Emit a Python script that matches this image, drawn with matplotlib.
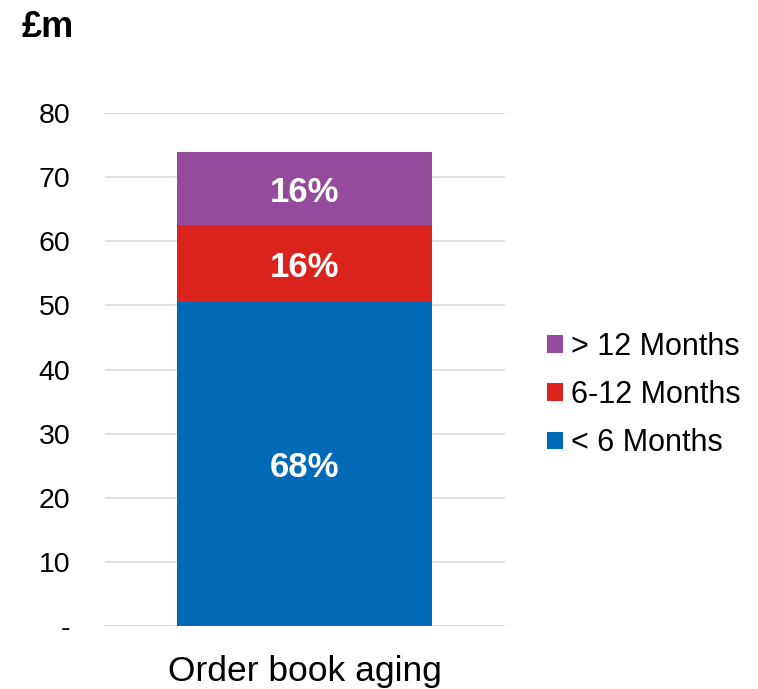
import matplotlib
matplotlib.use("Agg")
import matplotlib.pyplot as plt

plt.rcParams['font.family'] = ['Liberation Sans', 'DejaVu Sans']

# data (values in £m)
category = ["Order book aging"]
series = ["< 6 Months", "6-12 Months", "> 12 Months"]
values = [50.5, 12.0, 11.4]
pct_labels = ["68%", "16%", "16%"]
colors = ["#006AB6", "#DB231E", "#944B9C"]
y_ticks = [0, 10, 20, 30, 40, 50, 60, 70, 80]
y_tick_labels = ["-", "10", "20", "30", "40", "50", "60", "70", "80"]

fig = plt.figure(figsize=(7.58, 6.89), dpi=100)
ax = fig.add_axes([0.1385, 0.0914, 0.5277, 0.7446])

bottom = 0
bars = []
for name, val, col, lab in zip(series, values, colors, pct_labels):
    b = ax.bar(category, [val], bottom=[bottom], width=0.6375,
               color=col, label=name, zorder=3)
    bars.append(b)
    # small nudge so the text sits centred on its cap height
    ax.text(0, bottom + val / 2 - 0.6, lab, ha="center", va="center",
            color="white", fontsize=25, fontweight="bold", zorder=4)
    bottom += val

ax.set_xlim(-0.5, 0.5)
ax.set_ylim(0, 80)
ax.set_yticks(y_ticks)
ax.set_yticklabels(y_tick_labels)
ax.yaxis.grid(True, color="#D9D9D9", linewidth=1.2, zorder=0)
ax.set_axisbelow(True)
for s in ax.spines.values():
    s.set_visible(False)
ax.tick_params(axis="y", length=0, pad=25, labelsize=20.5)
ax.tick_params(axis="x", length=0, pad=21, labelsize=25.5)

fig.text(0.029, 0.96, "£m", fontsize=26, fontweight="bold",
         ha="left", va="center")

handles = [bars[2], bars[1], bars[0]]
labels = [series[2], series[1], series[0]]
ax.legend(handles, labels, loc="center left",
          bbox_to_anchor=(0.7216, 0.4266), bbox_transform=fig.transFigure,
          frameon=False, fontsize=22, handlelength=0.52, handleheight=0.52,
          handletextpad=0.25, labelspacing=0.6, borderpad=0,
          borderaxespad=0)

fig.savefig("out.png", dpi=100)
